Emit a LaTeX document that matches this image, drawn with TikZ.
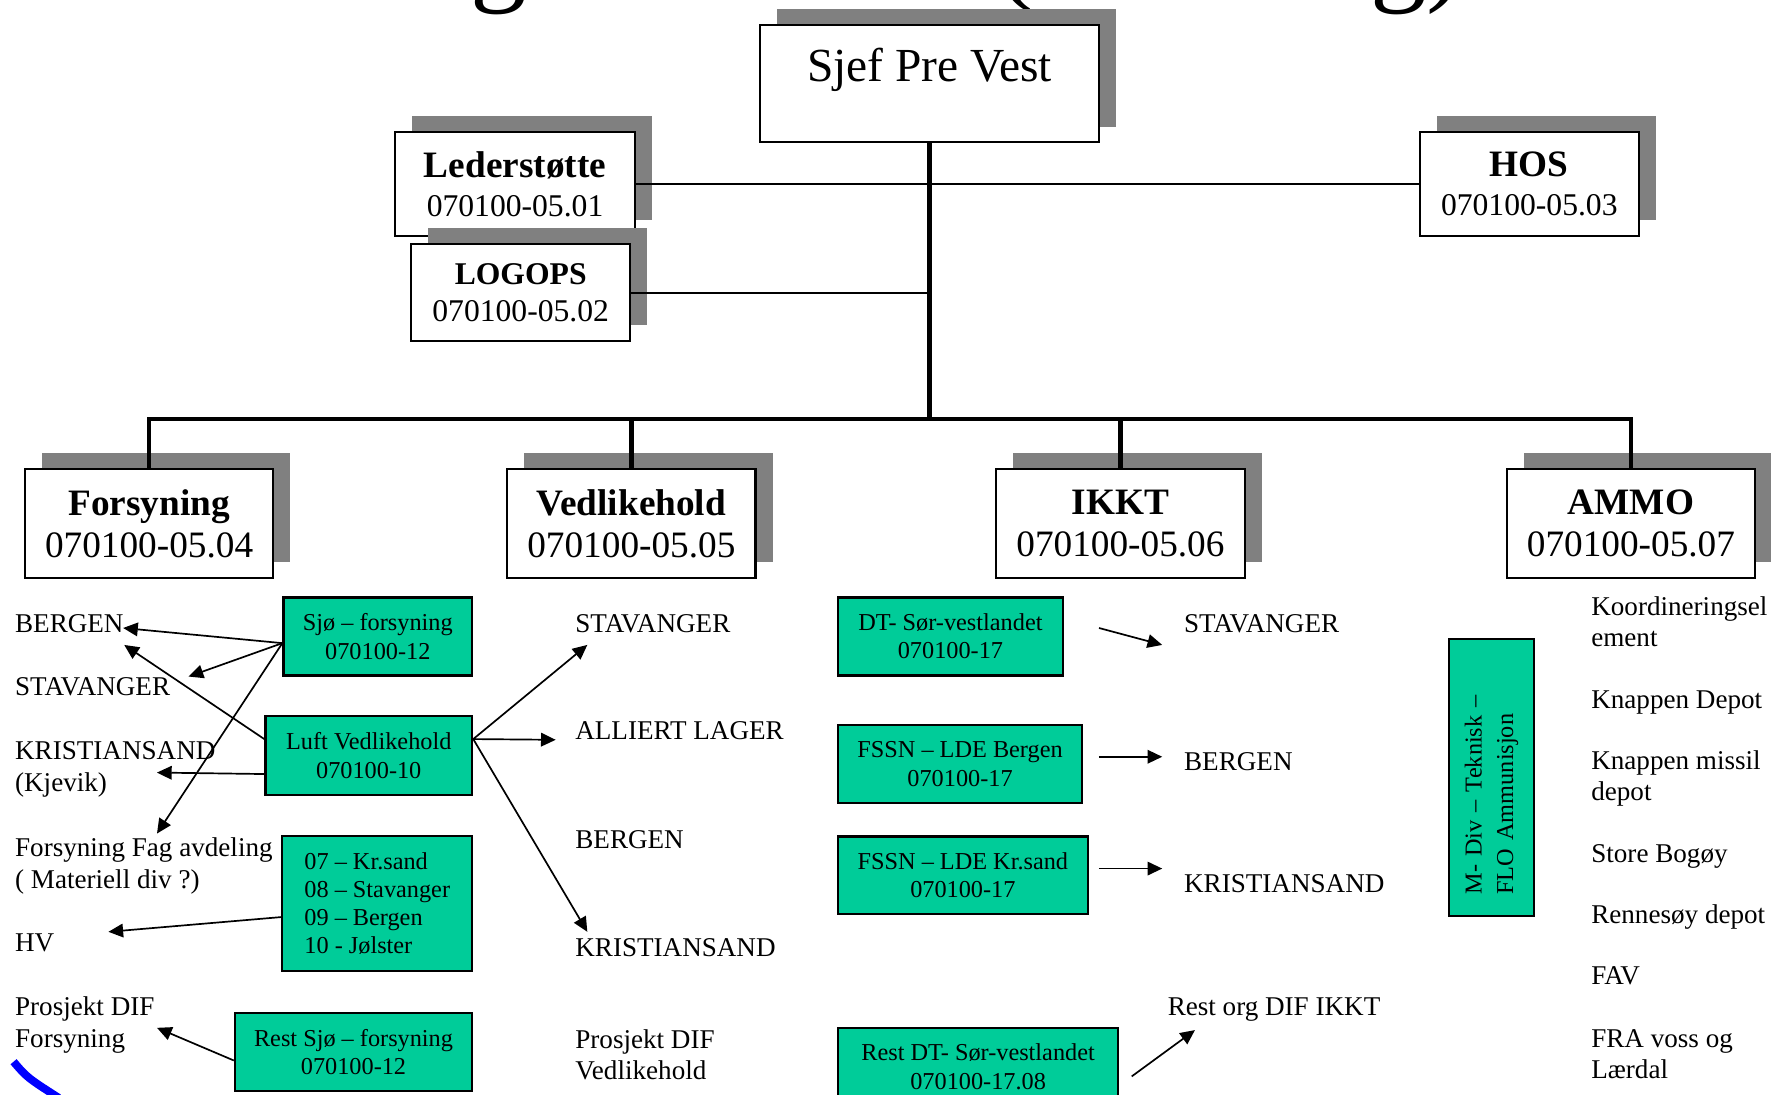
\documentclass[tikz,border=0pt]{standalone}
\usepackage{fontspec}
\setmainfont{Liberation Serif}
\usepackage{xcolor}
\usepackage{tikz}
\usetikzlibrary{arrows.meta, shadows}

\definecolor{unitgreen}{RGB}{0,204,153}

\begin{document}
\begin{tikzpicture}[x=0.5pt, y=-0.5pt,
    box/.style={draw, fill=white, line width=1pt, align=center,
      general shadow={fill=gray, shadow xshift=7.5pt, shadow yshift=7pt}},
    unit/.style={draw, fill=unitgreen, line width=1pt, align=center,
      minimum height=34.5pt, font=\fontsize{10.75}{12.5}\selectfont},
    site/.style={anchor=base west, inner sep=0pt, align=left,
      font=\fontsize{12}{14}\selectfont},
    link/.style={line width=0.9pt},
    trunk/.style={line width=2pt},
    arr/.style={line width=0.75pt, -{Triangle[length=6.5pt, width=6pt]}}]

    \useasboundingbox (0,0) rectangle (1568,969);
    \clip (0,0) rectangle (1568,969);

    \node[anchor=base, font=\fontsize{50}{60}\selectfont] (titleA) at (442,-8) {g};
    \node[anchor=base, font=\fontsize{50}{60}\selectfont] (titleB) at (899,-9) {(};
    \node[anchor=base west, inner sep=0pt, font=\fontsize{50}{60}\selectfont] (titleC) at (1213,-8) {g)};

    \node[box, anchor=north, minimum width=150pt, inner ysep=0pt, text height=25pt, text depth=27pt,
      font=\fontsize{21}{24}\selectfont] (sjef) at (823,21) {Sjef Pre Vest};

    \node[box, minimum width=106pt, minimum height=46pt, font=\fontsize{14}{17.25}\selectfont] (leder) at (456,163)
      {{\fontsize{16.5}{17.25}\selectfont\bfseries Lederstøtte}\\070100-05.01};
    \node[box, minimum width=97pt, minimum height=46pt, font=\fontsize{14}{17.25}\selectfont] (hos) at (1354,163)
      {{\fontsize{16.5}{17.25}\selectfont\bfseries HOS}\\070100-05.03};
    \node[box, minimum width=97pt, minimum height=43pt, font=\fontsize{14}{16.5}\selectfont] (logops) at (461,259)
      {\textbf{LOGOPS}\\070100-05.02};

    \node[box, minimum width=110pt, minimum height=48.5pt, font=\fontsize{16.5}{18.5}\selectfont] (forsyning) at (132,463.5)
      {\textbf{Forsyning}\\070100-05.04};
    \node[box, minimum width=110pt, minimum height=48.5pt, font=\fontsize{16.5}{18.5}\selectfont] (vedlike) at (559,463.5)
      {\textbf{Vedlikehold}\\070100-05.05};
    \node[box, minimum width=110pt, minimum height=48.5pt, font=\fontsize{16.5}{18.5}\selectfont] (ikkt) at (992,463.5)
      {\textbf{IKKT}\\070100-05.06};
    \node[box, minimum width=110pt, minimum height=48.5pt, font=\fontsize{16.5}{18.5}\selectfont] (ammo) at (1444,463.5)
      {\textbf{AMMO}\\070100-05.07};

    \coordinate (split) at (823,371);

    \draw[trunk] (sjef.south) -- (split);
    \draw[link] (leder) -- (hos);
    \draw[link] (logops) -- (logops -| sjef);
    \draw[trunk] (forsyning.north) |- (split) -| (ammo.north);
    \draw[trunk] (vedlike.north) -- (vedlike.north |- split);
    \draw[trunk] (ikkt.north) -- (ikkt.north |- split);

    \node[unit, minimum width=83.5pt] (sjo) at (334.5,563.5) {Sjø -- forsyning\\070100-12};
    \node[unit, minimum width=91.5pt, minimum height=35pt] (luft) at (326.5,669) {Luft Vedlikehold\\070100-10};
    \node[unit, minimum width=84pt, minimum height=60pt, align=left] (hv) at (334,800)
      {07 -- Kr.sand\\08 -- Stavanger\\09 -- Bergen\\10 - Jølster};
    \node[unit, minimum width=105pt] (restsjo) at (313,931.5) {Rest Sjø -- forsyning\\070100-12};

    \node[unit, minimum width=99.5pt] (dt) at (841.5,563.5) {DT- Sør-vestlandet\\070100-17};
    \node[unit, minimum width=108pt] (fssnb) at (850,676.5) {FSSN -- LDE Bergen\\070100-17};
    \node[unit, minimum width=110.5pt] (fssnk) at (852.5,775) {FSSN -- LDE Kr.sand\\070100-17};
    \node[unit, minimum width=124pt] (restdt) at (866,944.5) {Rest DT- Sør-vestlandet\\070100-17.08};

    \node[unit, rotate=90, minimum width=122.5pt, minimum height=37.5pt, text width=103.5pt, inner xsep=9.5pt,
      align=left, font=\fontsize{10.75}{14}\selectfont] (mdiv) at (1320.5,688.5) {M- Div -- Teknisk --\\FLO Ammunisjon};

    \node[site] (bergF) at (13,560) {BERGEN};
    \node[site] (stavF) at (13,616) {STAVANGER};
    \node[site] (krsF) at (13,700.5) {KRISTIANSAND\\(Kjevik)};
    \node[site] (fagF) at (13,786.5) {Forsyning Fag avdeling\\( Materiell div ?)};
    \node[site] (hvF) at (13,842.5) {HV};
    \node[site] (difF) at (13,927.5) {Prosjekt DIF\\Forsyning};

    \node[site] (stavV) at (509,560) {STAVANGER};
    \node[site] (lagerV) at (509,655) {ALLIERT LAGER};
    \node[site] (bergV) at (509,751) {BERGEN};
    \node[site] (krsV) at (509,846.5) {KRISTIANSAND};
    \node[site] (difV) at (509,956) {Prosjekt DIF\\Vedlikehold};

    \node[site] (stavI) at (1048,560) {STAVANGER};
    \node[site] (bergI) at (1048,682.5) {BERGEN};
    \node[site] (krsI) at (1048,790) {KRISTIANSAND};
    \node[site] (restI) at (1033.5,899) {Rest org DIF IKKT};

    \node[site] (koordA) at (1408.5,572.5) {Koordineringsel\\ement};
    \node[site] (knappA) at (1408.5,627) {Knappen Depot};
    \node[site] (missilA) at (1408.5,709) {Knappen missil\\depot};
    \node[site] (bogoyA) at (1408.5,764) {Store Bogøy};
    \node[site] (rennA) at (1408.5,817.5) {Rennesøy depot};
    \node[site] (favA) at (1408.5,872) {FAV};
    \node[site] (vossA) at (1408.5,955) {FRA voss og\\Lærdal};

    \coordinate (bergTipA) at (109,556);
    \coordinate (stavTip) at (167,599);
    \coordinate (fagTip) at (139,738);
    \coordinate (bergTipB) at (110,571);
    \coordinate (krsTip) at (139,684);
    \coordinate (hvTip) at (96,825);
    \coordinate (difTip) at (139,910);

    \coordinate (stavVTip) at (520,571);
    \coordinate (lagerVTip) at (492,655);
    \coordinate (krsVTip) at (520,825);

    \coordinate (dtFrom) at (973,556);
    \coordinate (dtTo) at (1029,571);
    \coordinate (fssnbFrom) at (973,670);
    \coordinate (fssnbTo) at (1029,670);
    \coordinate (fssnkFrom) at (973,769);
    \coordinate (fssnkTo) at (1029,769);
    \coordinate (restFrom) at (1002,953);
    \coordinate (restTo) at (1058,912);

    \draw[arr] (sjo.184) -- (bergTipA);
    \draw[arr] (sjo.184) -- (stavTip);
    \draw[arr] (sjo.184) -- (fagTip);
    \draw[arr] (luft.171) -- (bergTipB);
    \draw[arr] (luft.190) -- (krsTip);
    \draw[arr] (hv.188) -- (hvTip);
    \draw[arr] (restsjo.184) -- (difTip);

    \draw[arr] (luft.9) -- (stavVTip);
    \draw[arr] (luft.9) -- (lagerVTip);
    \draw[arr] (luft.9) -- (krsVTip);

    \draw[arr] (dtFrom) -- (dtTo);
    \draw[arr] (fssnbFrom) -- (fssnbTo);
    \draw[arr] (fssnkFrom) -- (fssnkTo);
    \draw[arr] (restFrom) -- (restTo);

    \draw[blue, line width=3.5pt] (12,940) .. controls (24,954) .. (52,972);

  \end{tikzpicture}
\end{document}
